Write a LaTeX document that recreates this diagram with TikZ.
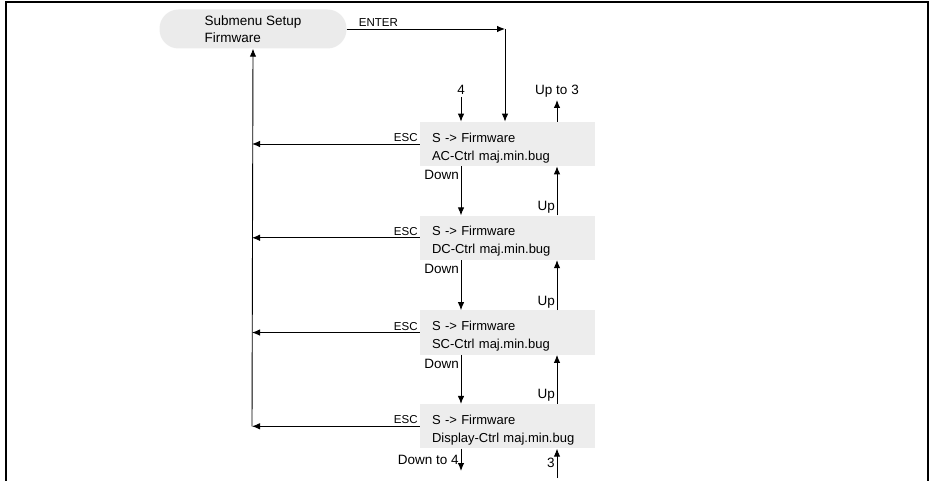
\documentclass[tikz,border=0pt]{standalone}
\usepackage{fontspec}
\setmainfont{Liberation Sans}
\usetikzlibrary{arrows.meta,positioning}

\tikzset{
  menubox/.style={fill=gray!14, minimum width=175pt, minimum height=44pt,
    text width=151pt, inner xsep=12pt, align=left, text height=17pt,
    font=\fontsize{13}{18}\selectfont},
  topbox/.style={fill=gray!16, rounded corners=19pt, minimum width=187pt,
    minimum height=39pt, align=left, font=\fontsize{13.5}{17}\selectfont},
  lbl/.style={font=\fontsize{13.5}{15}\selectfont, inner sep=2pt},
  keylbl/.style={font=\fontsize{11.5}{12}\selectfont, inner sep=2pt},
  arr/.style={-{Latex[length=8pt,width=6.5pt]}, line width=0.9pt},
}

\begin{document}
\begin{tikzpicture}[x=1pt, y=-1pt]
  \useasboundingbox (0,0) rectangle (933,481);
  \draw[line width=1.3pt] (6,481) -- (6,2) -- (928,2) -- (928,481);

  \coordinate (dn)    at (461,0);
  \coordinate (up)    at (557,0);
  \coordinate (esc)   at (252,0);
  \coordinate (enter) at (505,29);

  \node[topbox] (setup) at (253,29) {Submenu Setup\\Firmware};
  \node[menubox] (fw1) at (507.5,144) {S -> Firmware\\AC-Ctrl maj.min.bug};
  \node[menubox, below=49pt of fw1] (fw2) {S -> Firmware\\DC-Ctrl maj.min.bug};
  \node[menubox, below=50pt of fw2] (fw3) {S -> Firmware\\SC-Ctrl maj.min.bug};
  \node[menubox, below=49pt of fw3] (fw4) {S -> Firmware\\Display-Ctrl maj.min.bug};

  \draw[arr] (setup.east) -- node[keylbl, above, pos=0.2] {ENTER} (enter);
  \draw[arr] (enter) -- (enter |- fw1.north);

  \foreach \i in {1,...,4} {
    \draw[arr] (fw\i.west) -- (esc |- fw\i.west);
    \node[keylbl, above left] at (fw\i.west) {ESC};
  }
  \draw[arr] (esc |- fw4.west) -- (setup.south);

  \foreach \i/\j in {1/2, 2/3, 3/4} {
    \draw[arr] (fw\i.south -| dn) -- (fw\j.north -| dn);
    \node[lbl, below left, yshift=-2pt] at (fw\i.south -| dn) {Down};
    \draw[arr] (fw\j.north -| up) -- (fw\i.south -| up);
    \node[lbl, above left] at (fw\j.north -| up) {Up};
  }

  \coordinate (in4)  at (461,97);
  \coordinate (out3) at (557,100);
  \draw[arr] (in4) -- (fw1.north -| dn);
  \node[lbl, above] at (in4) {4};
  \draw[arr] (fw1.north -| up) -- (out3);
  \node[lbl, above] at (out3) {Up to 3};

  \coordinate (out4) at (461,471);
  \coordinate (in3)  at (557,478);
  \draw[arr] (fw4.south -| dn) -- node[lbl, left] {Down to 4} (out4);
  \draw[arr] (in3) -- node[lbl, left] {3} (fw4.south -| up);
\end{tikzpicture}
\end{document}
